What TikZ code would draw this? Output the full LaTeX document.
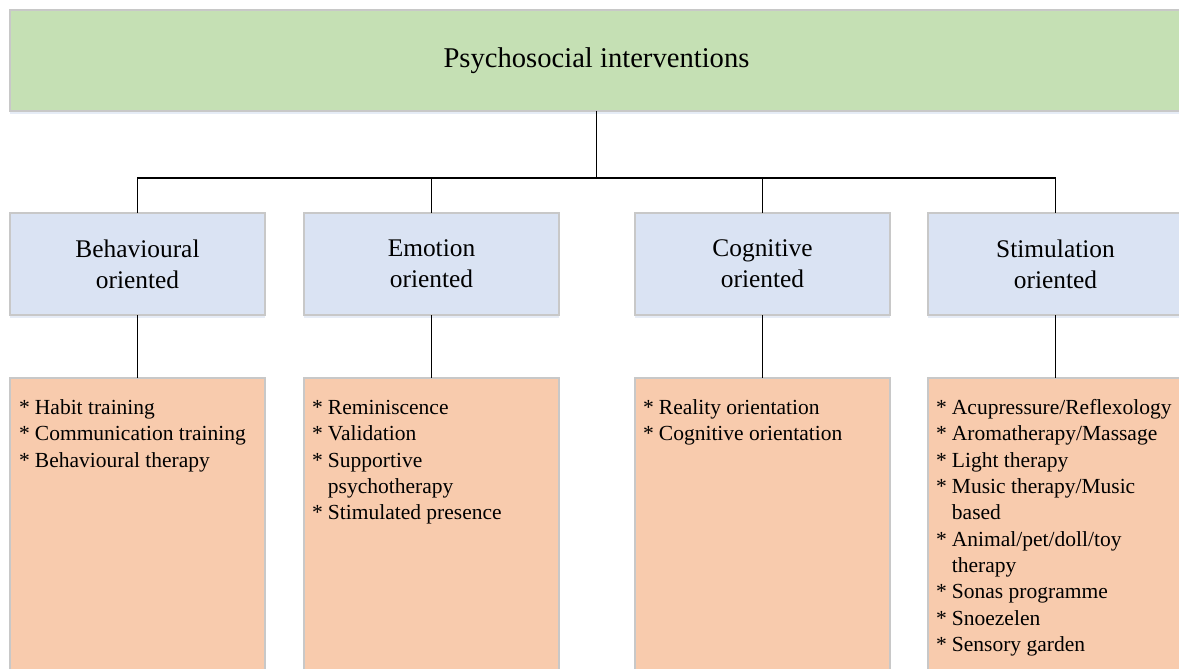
\documentclass[tikz,border=0pt]{standalone}
\usepackage{fontspec}
\setmainfont{Liberation Serif}
\usetikzlibrary{shadows}
\definecolor{topgreen}{HTML}{C5E0B4}
\definecolor{midblue}{HTML}{DAE3F3}
\definecolor{lowpeach}{HTML}{F8CBAD}
\definecolor{edgegray}{HTML}{C8C8C8}
\definecolor{shadowblue}{HTML}{E6ECF6}
\tikzset{
  boxbase/.style={draw=edgegray, line width=1.2pt, inner sep=0pt, outer sep=0pt,
    drop shadow={shadow xshift=0pt, shadow yshift=-3pt, fill=shadowblue, opacity=1}},
  topbox/.style={boxbase, fill=topgreen, minimum width=1173pt, minimum height=101pt,
    font=\fontsize{28.6}{33}\selectfont},
  midbox/.style={boxbase, fill=midblue, minimum width=255pt, minimum height=102pt,
    align=center, font=\fontsize{25.4}{31}\selectfont},
  lowbox/.style={boxbase, fill=lowpeach, minimum width=255pt, minimum height=330pt},
  listtext/.style={inner sep=0pt, anchor=north west, font=\fontsize{21.5}{26.3}\selectfont},
  conn/.style={draw=black, line width=1.7pt}
}
\newcommand{\itemlist}[1]{\begin{tabular}{@{}l@{\hspace{5pt}}l@{}}#1\end{tabular}}
\newcommand{\st}{\raisebox{0pt}{*}}
\begin{document}
\begin{tikzpicture}[x=1pt,y=-1pt]
\useasboundingbox (0,0) rectangle (1179,669);
\clip (0,0) rectangle (1179,669);
\fill[white] (0,0) rectangle (1179,669);
\node[topbox] (top) at (596.5,60.5) {\raisebox{-3pt}{Psychosocial interventions}};
\node[midbox] (b1) at (137.5,264) {Behavioural\\oriented};
\node[midbox] (b2) at (431.5,264) {Emotion\\oriented};
\node[midbox] (b3) at (762.5,264) {Cognitive\\oriented};
\node[midbox] (b4) at (1055.5,264) {Stimulation\\oriented};
\node[lowbox, anchor=north] (l1) at (137.5,378) {};
\node[lowbox, anchor=north] (l2) at (431.5,378) {};
\node[lowbox, anchor=north] (l3) at (762.5,378) {};
\node[lowbox, anchor=north] (l4) at (1055.5,378) {};
\coordinate (bus) at (597,178);
\draw[conn] (top.south) -- (top.south |- bus);
\draw[conn] (b1.north) -- (b1.north |- bus) -- (b4.north |- bus) -- (b4.north);
\draw[conn] (b2.north) -- (b2.north |- bus);
\draw[conn] (b3.north) -- (b3.north |- bus);
\draw[conn] (b1.south) -- (l1.north);
\draw[conn] (b2.south) -- (l2.north);
\draw[conn] (b3.south) -- (l3.north);
\draw[conn] (b4.south) -- (l4.north);
\node[listtext] (t1) at (19,396) {\itemlist{\st&Habit training\\\st&Communication training\\\st&Behavioural therapy}};
\node[listtext] (t2) at (312,396) {\itemlist{\st&Reminiscence\\\st&Validation\\\st&Supportive\\&psychotherapy\\\st&Stimulated presence}};
\node[listtext] (t3) at (643,396) {\itemlist{\st&Reality orientation\\\st&Cognitive orientation}};
\node[listtext] (t4) at (936,396) {\itemlist{\st&Acupressure/Reflexology\\\st&Aromatherapy/Massage\\\st&Light therapy\\\st&Music therapy/Music\\&based\\\st&Animal/pet/doll/toy\\&therapy\\\st&Sonas programme\\\st&Snoezelen\\\st&Sensory garden}};
\end{tikzpicture}
\end{document}
